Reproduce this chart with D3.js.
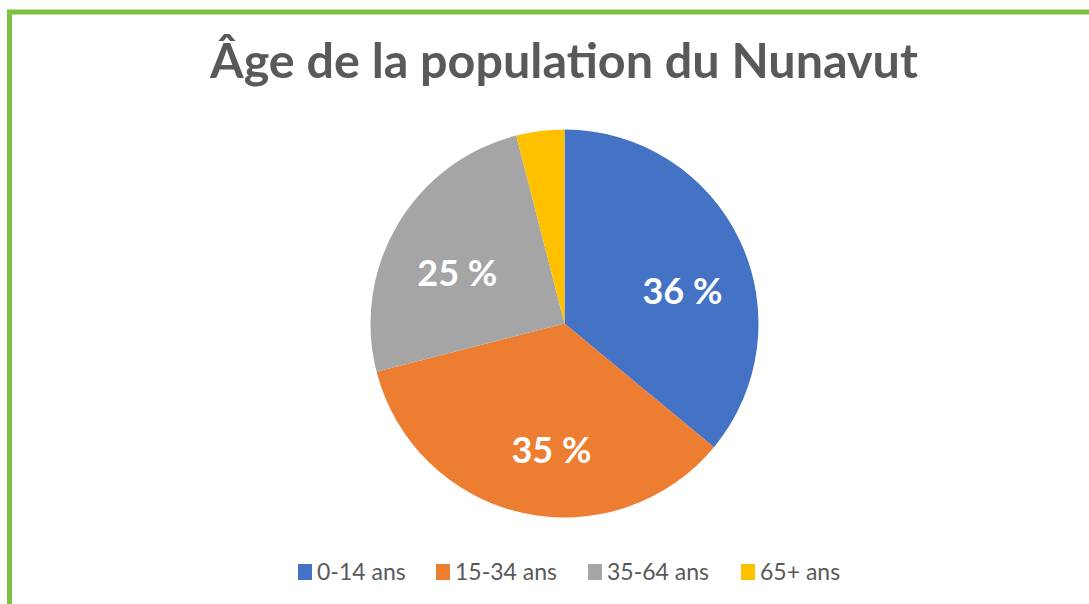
<!DOCTYPE html>
<html><head><meta charset="utf-8">
<script src="https://cdn.jsdelivr.net/npm/d3@7"></script>
<style>body{margin:0;background:#fff}svg{display:block}</style>
</head><body>
<svg id="c" width="1089" height="604"></svg>
<script>
const categories = ["0-14 ans", "15-34 ans", "35-64 ans", "65+ ans"];
const values = [36, 35, 25, 4];
const colors = ["#4472C4", "#ED7D31", "#A5A5A5", "#FFC000"];
const title = "Âge de la population du Nunavut";

const svg = d3.select("#c");
const W = 1089, H = 604;
svg.append("rect").attr("width", W).attr("height", H).attr("fill", "#fff");
// green frame
svg.append("rect").attr("x", 9.5).attr("y", 12).attr("width", W + 20).attr("height", H + 20)
  .attr("fill", "none").attr("stroke", "#7DC242").attr("stroke-width", 5);

const font = "Lato, 'Open Sans', sans-serif";
const t = svg.append("text").attr("x", 564).attr("y", 78).attr("text-anchor", "middle")
  .attr("font-family", font).attr("font-weight", 700).attr("font-size", 44)
  .attr("fill", "#595959").text(title);
const tw = t.node().getComputedTextLength();
t.attr("font-size", 44 * 708 / tw);

const cx = 564.5, cy = 323.5, r = 194;
const pie = d3.pie().sort(null).value(d => d);
const arcs = pie(values);
const arc = d3.arc().innerRadius(0).outerRadius(r);
const g = svg.append("g").attr("transform", `translate(${cx},${cy})`);
g.selectAll("path").data(arcs).join("path")
  .attr("d", arc).attr("fill", (d, i) => colors[i]);

// label placement (best-fit style, tuned per slice)
const angShift = [10, -6.7, -5.6, 0];
const radF = [0.63, 0.655, 0.61, 0.63];
function labelPos(d, i) {
  const a = (d.startAngle + d.endAngle) / 2 + angShift[i] * Math.PI / 180;
  const rr = r * radF[i];
  return [Math.sin(a) * rr, -Math.cos(a) * rr];
}
g.selectAll("text.lbl").data(arcs).join("text")
  .filter(d => d.data >= 10)
  .attr("class", "lbl")
  .attr("transform", (d, i) => `translate(${labelPos(d, i)})`)
  .attr("text-anchor", "middle").attr("dy", "0.36em")
  .attr("font-family", font).attr("font-weight", 700).attr("font-size", 36)
  .attr("fill", "#fff").text(d => d.data + " %");

// legend
const legX = [298, 436, 588, 741];
const lg = svg.append("g");
categories.forEach((c, i) => {
  lg.append("rect").attr("x", legX[i]).attr("y", 564).attr("width", 14).attr("height", 16).attr("fill", colors[i]);
  lg.append("text").attr("x", legX[i] + 19).attr("y", 580)
    .attr("font-family", font).attr("font-size", 23).attr("fill", "#595959").text(c);
});
</script>
</body></html>
